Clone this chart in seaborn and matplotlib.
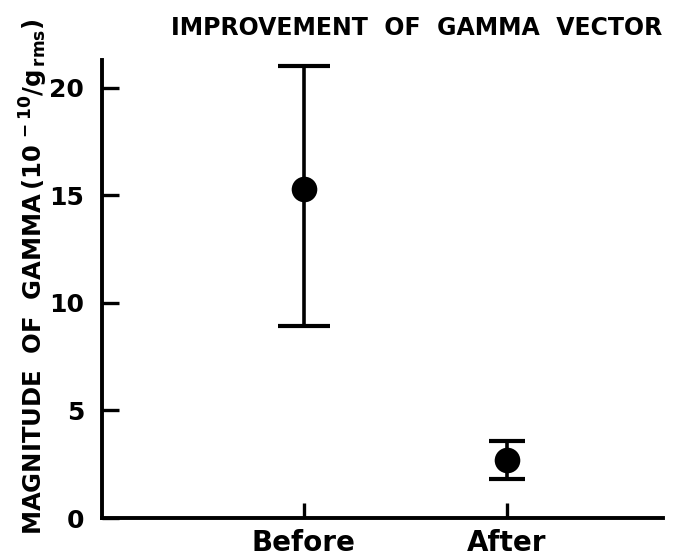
import matplotlib
matplotlib.use("Agg")
import matplotlib.pyplot as plt
import seaborn as sns
import pandas as pd
import numpy as np

# Data
categories = ["Before", "After"]
gamma_mag = [15.3, 2.7]
err_low = [8.95, 1.8]
err_high = [21.0, 3.6]
y_ticks = [0, 5, 10, 15, 20]

sns.set_style("ticks")
plt.rcParams['font.family'] = ['DejaVu Sans']
plt.rcParams['text.color'] = 'black'
plt.rcParams['mathtext.fontset'] = 'custom'
plt.rcParams['mathtext.rm'] = 'DejaVu Sans:bold'
plt.rcParams['mathtext.it'] = 'DejaVu Sans:bold'
plt.rcParams['mathtext.bf'] = 'DejaVu Sans:bold'

df = pd.DataFrame({"cat": categories, "val": gamma_mag, "lo": err_low, "hi": err_high})

fig = plt.figure(figsize=(6.73, 5.59), dpi=100)
ax = fig.add_axes([102/673, 1 - 518/559, (663-102)/673, (518-60)/559])

capsizes = [19, 13]
for i, row in df.iterrows():
    ax.errorbar(i, row["val"],
                yerr=[[row["val"] - row["lo"]], [row["hi"] - row["val"]]],
                fmt="none", ecolor="black", elinewidth=2.6, capsize=capsizes[i],
                capthick=3.0, zorder=2)

sns.scatterplot(data=df, x="cat", y="val", ax=ax, color="black", s=340,
                edgecolor="black", linewidth=0, zorder=3, legend=False)

ax.set_xlim(-0.995, 1.77)
ax.set_ylim(0, 21.3)
ax.set_yticks(y_ticks)
ax.set_yticklabels([str(t) for t in y_ticks])
ax.set_xticks(range(len(categories)))
ax.set_xticklabels(categories)
ax.set_xlabel("")
ax.set_ylabel("")

for s in ["top", "right"]:
    ax.spines[s].set_visible(False)
for s in ["left", "bottom"]:
    ax.spines[s].set_linewidth(2.8)
    ax.spines[s].set_color("black")

ax.tick_params(axis="y", direction="in", length=12, width=2.4, pad=13,
               labelsize=18, colors="black")
ax.tick_params(axis="x", direction="in", length=11, width=2.4, pad=8,
               labelsize=20, colors="black")
for lab in ax.get_xticklabels() + ax.get_yticklabels():
    lab.set_fontweight("bold")

fig.text(417/673, 1 - 28/559, "IMPROVEMENT  OF  GAMMA  VECTOR",
         ha="center", va="center", fontsize=17, fontweight="bold", color="black")
fig.text(34/673, 1 - 277/559,
         r"MAGNITUDE  OF  GAMMA$\,(10^{\,-10}/g_{\,\mathrm{rms}})$",
         ha="center", va="center", rotation=90, fontsize=17.5, fontweight="bold",
         color="black")

fig.savefig("out.png", dpi=100, facecolor="white")
